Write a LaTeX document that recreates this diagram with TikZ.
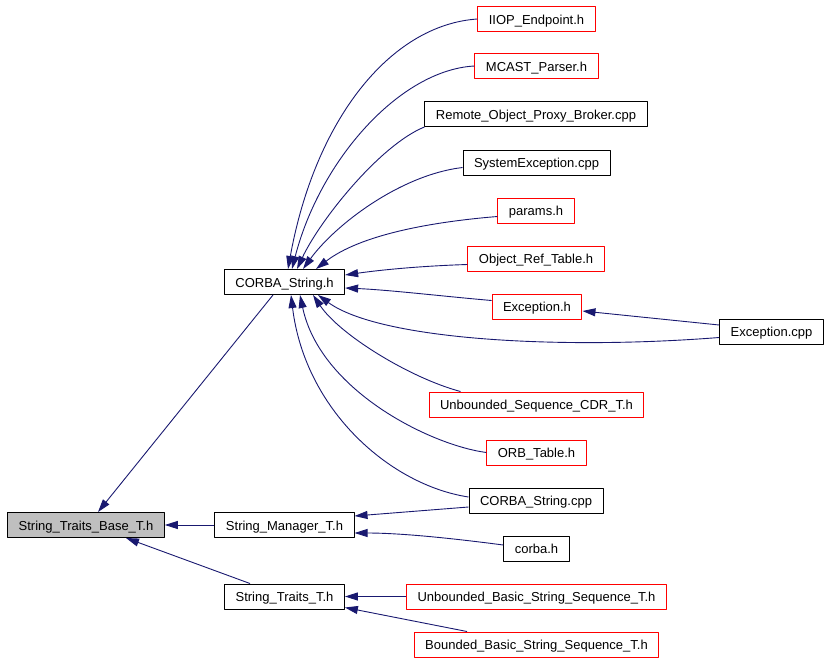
\documentclass[tikz,border=0pt]{standalone}
\usepackage{fontspec}
\setmainfont{Liberation Sans}
\usepackage{xcolor}
\usepackage{tikz}
\usetikzlibrary{arrows.meta}
\definecolor{edgeblue}{HTML}{191970}
\definecolor{basegray}{HTML}{BFBFBF}
\tikzset{box/.style={font=\fontsize{13}{15}\selectfont, draw=black, rectangle, line width=1pt, inner xsep=11pt, inner ysep=0pt, text height=11pt, text depth=0.4pt, minimum height=25pt, text=black}}
\tikzset{redbox/.style={box, draw=red}}
\tikzset{edge/.style={draw=edgeblue, line width=0.9pt, -{Triangle[length=13pt,width=8pt]}}}

\begin{document}
\begin{tikzpicture}[x=1pt, y=-1pt, line join=bevel]
		\useasboundingbox (0,0) rectangle (829,661);
		
		\node[box, fill=basegray] (base) at (86,525) {String\_Traits\_Base\_T.h};
		\node[box] (cstrh) at (284.5,282) {CORBA\_String.h};
		\node[box] (mgr) at (284.5,525) {String\_Manager\_T.h};
		\node[box] (traits) at (284.5,596.5) {String\_Traits\_T.h};
		
		\node[redbox] (iiop) at (536.5,19) {IIOP\_Endpoint.h};
		\node[redbox] (mcast) at (536.5,66) {MCAST\_Parser.h};
		\node[box] (remote) at (536,114) {Remote\_Object\_Proxy\_Broker.cpp};
		\node[box] (sysexc) at (536.5,162.5) {SystemException.cpp};
		\node[redbox] (params) at (536,210.5) {params.h};
		\node[redbox] (objref) at (536,258.5) {Object\_Ref\_Table.h};
		\node[redbox] (exch) at (537,306.5) {Exception.h};
		\node[box] (excpp) at (771.5,331.5) {Exception.cpp};
		\node[redbox] (useqcdr) at (536.5,404.5) {Unbounded\_Sequence\_CDR\_T.h};
		\node[redbox] (orbtab) at (536.5,452.5) {ORB\_Table.h};
		\node[box] (cstrcpp) at (536,500.5) {CORBA\_String.cpp};
		\node[box] (corbah) at (536.5,548.5) {corba.h};
		\node[redbox] (ubss) at (536.5,596.5) {Unbounded\_Basic\_String\_Sequence\_T.h};
		\node[redbox] (bbss) at (536.5,644.5) {Bounded\_Basic\_String\_Sequence\_T.h};
		
		\draw[edge] ([xshift=-11.5pt]cstrh.south) -- ([xshift=12pt]base.north);
		\draw[edge] (mgr.west) -- (base.east);
		\draw[edge] ([xshift=-34.5pt]traits.north) -- ([xshift=40pt]base.south);
		
		\draw[edge] (iiop.west) .. controls (390,25) and (315,120) .. ([xshift=3.5pt]cstrh.north);
		\draw[edge] (mcast.west) .. controls (400,70) and (320,160) .. ([xshift=7.5pt]cstrh.north);
		\draw[edge] (remote.south west) .. controls (380,145) and (320,220) .. ([xshift=12.5pt]cstrh.north);
		\draw[edge] ([yshift=-5pt]sysexc.west) .. controls (400,175) and (335,225) .. ([xshift=18.5pt]cstrh.north);
		\draw[edge] ([yshift=-6pt]params.west) .. controls (430,222) and (360,235) .. ([xshift=31.5pt]cstrh.north);
		\draw[edge] ([yshift=-6pt]objref.west) .. controls (420,266) and (380,270) .. ([yshift=7pt]cstrh.east);
		\draw[edge] ([yshift=6pt]exch.west) .. controls (440,296) and (390,290) .. ([yshift=-6pt]cstrh.east);
		\draw[edge] ([yshift=-6pt]excpp.west) .. controls (560,350) and (380,340) .. ([xshift=33.5pt]cstrh.south);
		\draw[edge] ([xshift=-76pt]useqcdr.north) .. controls (410,378) and (340,335) .. ([xshift=28.5pt]cstrh.south);
		\draw[edge] (orbtab.west) .. controls (430,445) and (320,390) .. ([xshift=15.5pt]cstrh.south);
		\draw[edge] ([yshift=3.5pt]cstrcpp.west) .. controls (390,485) and (305,410) .. ([xshift=6.5pt]cstrh.south);
		
		\draw[edge] ([yshift=6.5pt]excpp.west) -- ([yshift=-4.5pt]exch.east);
		
		\draw[edge] ([yshift=-6.5pt]cstrcpp.west) -- ([yshift=9pt]mgr.east);
		\draw[edge] ([yshift=3.5pt]corbah.west) .. controls (450,538) and (400,533) .. ([yshift=-8pt]mgr.east);
		
		\draw[edge] (ubss.west) -- (traits.east);
		\draw[edge] ([xshift=-69.5pt]bbss.north) -- ([yshift=2pt]traits.south east);
	\end{tikzpicture}
\end{document}
